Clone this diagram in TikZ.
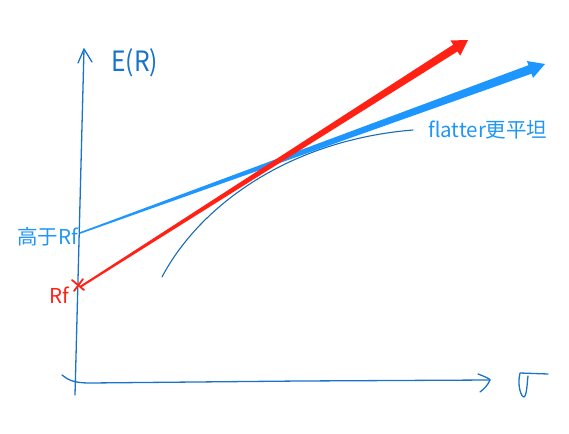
\documentclass[tikz,border=0pt]{standalone}
\usepackage{fontspec}
\setmainfont{Noto Sans CJK SC}
\usetikzlibrary{calc}
\definecolor{axisblue}{HTML}{1A73C8}
\definecolor{lineblue}{HTML}{1E96FF}
\definecolor{labelblue}{HTML}{2196F3}
\definecolor{curveblue}{HTML}{1A6BB5}
\definecolor{linered}{HTML}{FF2214}
\tikzset{
  axisline/.style={draw=axisblue, line width=1.3pt, line cap=round, line join=round},
  lbl/.style={font=\fontsize{20.5}{22}\selectfont, inner sep=0pt},
}
\begin{document}
\begin{tikzpicture}[x=1pt,y=-1pt]
\useasboundingbox (0,0) rectangle (569,433);
% axes
\coordinate (ytop) at (84,49);
\coordinate (ybot) at (75,395);
\coordinate (xstart) at (62,375);
\coordinate (xend) at (490,380);
\draw[axisline] (ybot) -- (ytop);
\draw[axisline] (78,63) -- (ytop) -- (92,62);
\draw[axisline] (xstart) .. controls (68,380) and (74,383) .. (90,383) -- (300,381) -- (xend);
\draw[axisline] (478,374) .. controls (486,377) and (490,379) .. (xend) .. controls (488,385) and (484,389) .. (480,392);
% axis labels
\node[lbl, text=axisblue, font=\fontsize{28}{30}\selectfont, xscale=0.88, anchor=west] (ER) at (111,63) {E(R)};
\draw[axisline] (548,374) -- (520,373) .. controls (517,385) and (521,397) .. (524,397) .. controls (527,395) and (527,383) .. (528,376);
% curve
\coordinate (cstart) at (162,277);
\coordinate (cend) at (413,130);
\draw[curveblue, line width=1.1pt, line cap=round] (cstart) .. controls (200,205) and (290,140) .. (cend);
% blue tapered arrow
\coordinate (hi) at (80,233);
\coordinate (btip) at (545,64);
\coordinate (bbase) at ($(btip)!16pt!(hi)$);
\fill[lineblue] ($(hi)!0.8pt!90:(btip)$) -- ($(bbase)!4.5pt!90:(btip)$) -- ($(bbase)!9pt!90:(btip)$) -- (btip)
  -- ($(bbase)!9pt!-90:(btip)$) -- ($(bbase)!4.5pt!-90:(btip)$) -- ($(hi)!0.8pt!-90:(btip)$) -- cycle;
% red tapered arrow
\coordinate (rf) at (80,287);
\coordinate (rtip) at (468,40);
\coordinate (rbase) at ($(rtip)!15pt!(rf)$);
\fill[linered] ($(rf)!1pt!90:(rtip)$) -- ($(rbase)!4pt!90:(rtip)$) -- ($(rbase)!9pt!90:(rtip)$) -- (rtip)
  -- ($(rbase)!9pt!-90:(rtip)$) -- ($(rbase)!4pt!-90:(rtip)$) -- ($(rf)!1pt!-90:(rtip)$) -- cycle;
% Rf cross
\draw[linered, line width=1.8pt, line cap=round] (72,280) -- (84,290);
\draw[linered, line width=1.8pt, line cap=round] (74,291) -- (83,279);
% labels
\node[lbl, text=labelblue, anchor=east] (hiRf) at (78,237) {高于Rf};
\node[lbl, text=linered, anchor=east] (RfL) at (69,295) {Rf};
\node[lbl, text=labelblue, anchor=west] (flat) at (428,130) {flatter更平坦};
\end{tikzpicture}
\end{document}
